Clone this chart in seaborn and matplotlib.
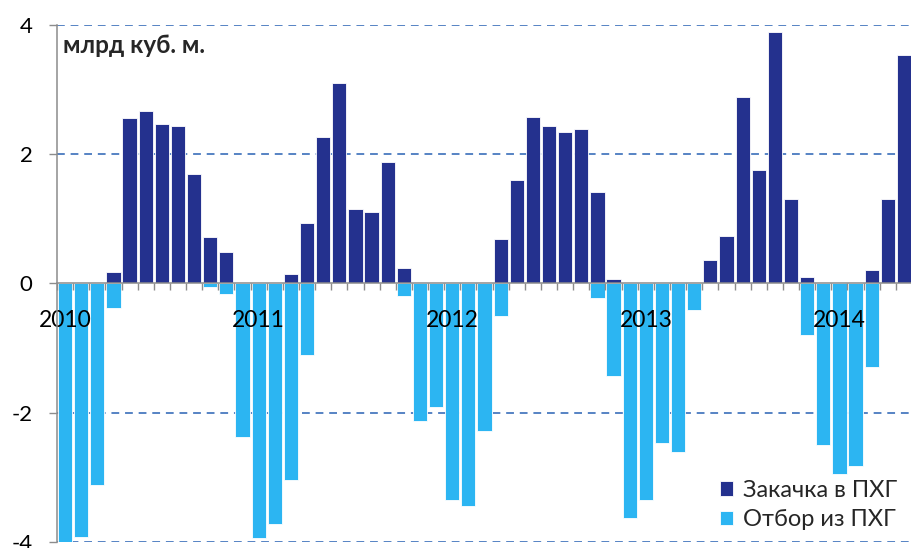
import matplotlib
matplotlib.use("Agg")
import matplotlib.pyplot as plt
import pandas as pd
import seaborn as sns

# monthly storage flows, bcm (Jan 2010 .. May 2014)
months = [str(p) for p in pd.period_range("2010-01", periods=53, freq="M")]
years = ["2010", "2011", "2012", "2013", "2014"]

injection = [
    0, 0, 0, 0.18, 2.56, 2.67, 2.46, 2.43, 1.70, 0.72, 0.49, 0,
    0, 0, 0.14, 0.93, 2.27, 3.10, 1.15, 1.10, 1.88, 0.23, 0, 0,
    0, 0, 0, 0.69, 1.60, 2.58, 2.43, 2.34, 2.39, 1.42, 0.07, 0,
    0, 0, 0, 0, 0.36, 0.73, 2.88, 1.76, 3.89, 1.30, 0.10, 0,
    0, 0, 0.21, 1.31, 3.53,
]
withdrawal = [
    -4.03, -3.93, -3.13, -0.375, 0, 0, 0, 0, 0, -0.06, -0.16, -2.375,
    -3.95, -3.73, -3.04, -1.11, 0, 0, 0, 0, 0, -0.19, -2.13, -1.91,
    -3.36, -3.45, -2.28, -0.51, 0, 0, 0, 0, 0, -0.225, -1.43, -3.63,
    -3.35, -2.47, -2.61, -0.42, 0, 0, 0, 0, 0, 0, -0.80, -2.51,
    -2.95, -2.83, -1.29, 0, 0,
]
series_names = ["Закачка в ПХГ", "Отбор из ПХГ"]
colors = {"Закачка в ПХГ": "#24318e", "Отбор из ПХГ": "#2cb5f2"}
grid_levels = [-4, -2, 2, 4]

df = pd.concat([
    pd.DataFrame({"month": months, "value": injection, "series": series_names[0]}),
    pd.DataFrame({"month": months, "value": withdrawal, "series": series_names[1]}),
])

sns.set_theme(style="white")
plt.rcParams["font.family"] = ["Lato", "Open Sans", "DejaVu Sans"]

fig = plt.figure(figsize=(9.12, 5.48), dpi=100)
ax = fig.add_axes([0.0625, 0.0115, 0.9375, 0.943])

# dashed grid behind the bars
for lvl in grid_levels:
    ax.axhline(lvl, color="#5683c4", linewidth=1.4, linestyle=(0, (4, 3)), zorder=0.5)

sns.barplot(
    data=df, x="month", y="value", hue="series", hue_order=series_names,
    order=months, palette=colors, dodge=False, width=0.88, errorbar=None,
    edgecolor="white", linewidth=0.6, saturation=1, ax=ax,
)

ax.set_xlim(-0.5, 52.28)
ax.set_ylim(-4, 4)
ax.set_yticks([-4, -2, 0, 2, 4])
ax.set_yticklabels(["-4", "-2", "0", "2", "4"])

# month boundary ticks + year labels under Jan bars
ax.set_xticks([i - 0.5 for i in range(len(months) + 1)])
ax.set_xticklabels([])
ax.set_xticks([months.index(y + "-01") for y in years], minor=True)
ax.set_xticklabels(years, minor=True)
ax.set_xlabel("")
ax.set_ylabel("")
ax.set_axisbelow(False)

ax.spines["top"].set_visible(False)
ax.spines["right"].set_visible(False)
ax.spines["bottom"].set_position(("data", 0))
for s in ("left", "bottom"):
    ax.spines[s].set_color("#8c8c8c")
    ax.spines[s].set_linewidth(1.1)
    ax.spines[s].set_zorder(5)

ax.tick_params(axis="x", which="major", direction="out", length=5, width=1,
               color="#8c8c8c", bottom=True)
ax.tick_params(axis="x", which="minor", length=0, pad=19, labelsize=16.5,
               labelcolor="black", bottom=True)
ax.tick_params(axis="y", direction="out", length=5.5, width=1, color="#8c8c8c",
               left=True, pad=12, labelsize=16, labelcolor="black")

ax.text(0.007, 0.946, "млрд куб. м.", transform=ax.transAxes, fontsize=17.5,
        fontweight="bold", va="baseline", ha="left")

ax.legend(loc="center left", bbox_to_anchor=(0.776, 0.071), frameon=False,
          fontsize=17, borderpad=0, borderaxespad=0, handlelength=0.55,
          handleheight=0.55, handletextpad=0.4, labelspacing=0.35)

fig.savefig("out.png", dpi=100)
